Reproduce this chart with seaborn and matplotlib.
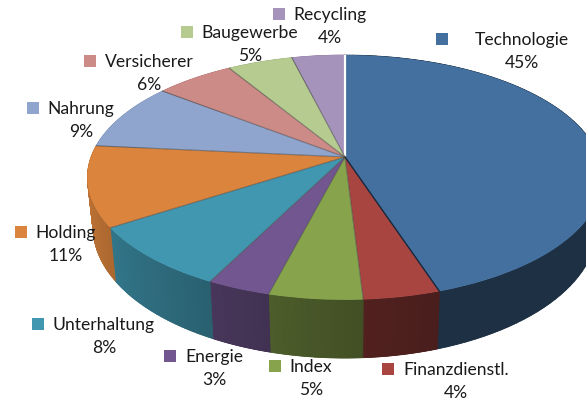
# 3D look pie of the portfolio split, perspective done by hand since pie is flat

import numpy as np
import matplotlib
matplotlib.use('Agg')
import matplotlib.pyplot as plt
from matplotlib.collections import PolyCollection
from matplotlib.transforms import Transform
import seaborn as sns

# %%
# data, labels show the rounded value

sectors = ['Technologie', 'Finanzdienstl.', 'Index', 'Energie', 'Unterhaltung',
           'Holding', 'Nahrung', 'Versicherer', 'Baugewerbe', 'Recycling']
shares = [44.8, 4.1, 5.0, 3.4, 8.4, 10.6, 8.9, 5.8, 4.8, 3.9]
sector_colors = ['#44709F', '#A94541', '#87A34B', '#71568F', '#4197B0',
                 '#DB843D', '#8FA5CE', '#CD8B88', '#B6CB90', '#A693BC']

# centre of each label (pixels) and centre of its colour square
label_x = [522, 456, 311, 214, 104, 66, 81, 149, 250, 330]
label_y = [40, 370, 367, 357, 325, 233, 109, 62, 33, 15]
square_x = [441.5, 387.5, 274.5, 169.5, 37.5, 20.5, 32.5, 89.5, 186.5, 278.5]

# %%
# perspective of the disc, the near side comes out bigger

CX, CY = 345, 157
RX, RY = 254, 119
TILT = 0.167
DEPTH = 48.5


def project(x, y):
    w = 1 + TILT * y
    return CX + RX * x / w, CY - RY * y / w


class DiscTransform(Transform):
    input_dims = 2
    output_dims = 2

    def transform_non_affine(self, values):
        px, py = project(values[:, 0], values[:, 1])
        return np.column_stack([px, py])


sns.set_theme(style='white')
plt.rcParams['font.family'] = ['Lato', 'DejaVu Sans']

fig = plt.figure(figsize=(5.86, 4), dpi=100)
ax = fig.add_axes([0, 0, 1, 1])

wedges, _ = ax.pie(shares, colors=sns.color_palette(sector_colors), startangle=90,
                   counterclock=False, wedgeprops={'linewidth': 0, 'zorder': 3})
ax.set_aspect('auto')
ax.set_xlim(0, 586)
ax.set_ylim(400, 0)

disc = DiscTransform() + ax.transData
for w in wedges:
    w.set_transform(disc)

# %%
# side wall, gets darker going round to the right

for w in wedges:
    t = np.radians(np.linspace(w.theta1, w.theta2, 80))
    x, y = np.cos(t), np.sin(t)
    top_x, top_y = project(x, y)
    scale = 1 + TILT * y
    bot_x = CX + (top_x - CX) * 0.978
    bot_y = top_y + DEPTH / scale

    clock = (90 - np.degrees(t)) % 360
    shade = np.interp(clock, [162, 180, 200, 215, 240, 265], [0.43, 0.50, 0.60, 0.68, 0.80, 0.90])
    base = np.array(w.get_facecolor()[:3])

    # solid piece underneath so the strips leave no seams
    outline = np.column_stack([np.r_[top_x, bot_x[::-1]], np.r_[top_y, bot_y[::-1]]])
    ax.fill(outline[:, 0], outline[:, 1], color=base * shade.mean(), lw=0, zorder=1)

    quads = []
    cols = []
    for i in range(len(t) - 1):
        quads.append([(top_x[i], top_y[i]), (top_x[i + 1], top_y[i + 1]),
                      (bot_x[i + 1], bot_y[i + 1]), (bot_x[i], bot_y[i])])
        cols.append(base * shade[i])
    ax.add_collection(PolyCollection(quads, facecolors=cols, edgecolors=cols, linewidths=0.5, zorder=2),
                      autolim=False)

# %%
# slice borders, only the radial ones have a line
# going clockwise theta2 is the side a slice starts on

for i, w in enumerate(wedges):
    a = np.radians(w.theta2)
    lx, ly = project(np.array([0, np.cos(a)]), np.array([0, np.sin(a)]))
    if i == 0:
        ax.plot(lx, ly, color='white', lw=1.6, zorder=4, solid_capstyle='butt')
    elif i == 1:
        ax.plot(lx, ly, color='#16263a', lw=1.0, zorder=4)
    else:
        ax.plot(lx, ly, color=(0.25, 0.25, 0.25, 0.55), lw=0.8, zorder=4)

# %%
# labels with their colour squares

for name, share, color, lx, ly, qx in zip(sectors, shares, sector_colors, label_x, label_y, square_x):
    ax.text(lx, ly, name, ha='center', va='center', fontsize=12.6, color='#1a1a1a', zorder=5)
    ax.text(lx, ly + 23, f'{round(share)}%', ha='center', va='center', fontsize=12.6, color='#1a1a1a', zorder=5)
    ax.scatter([qx], [ly - 1], marker='s', s=66, color=color, linewidths=0, zorder=5)

fig.savefig('out.png', dpi=100)
